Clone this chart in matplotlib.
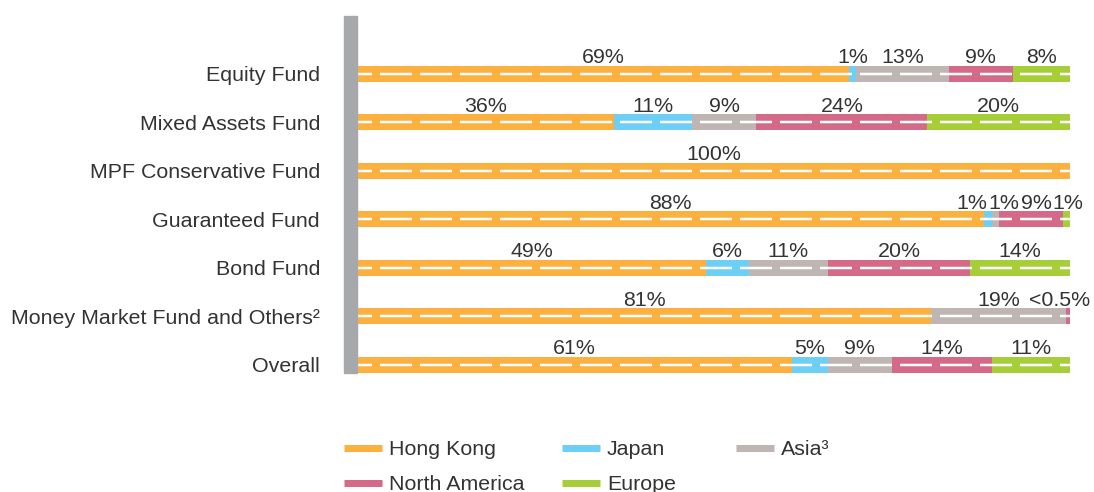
import matplotlib
matplotlib.use("Agg")
import matplotlib.pyplot as plt
from matplotlib.lines import Line2D
from matplotlib.patches import Rectangle
import numpy as np

plt.rcParams['font.family'] = ['Liberation Sans', 'DejaVu Sans']
plt.rcParams['lines.scale_dashes'] = False

categories = ["Equity Fund", "Mixed Assets Fund", "MPF Conservative Fund",
              "Guaranteed Fund", "Bond Fund",
              "Money Market Fund and Others\u00b2", "Overall"]
regions = ["Hong Kong", "Japan", "Asia\u00b3", "North America", "Europe"]

hong_kong     = [69, 36, 100, 88, 49, 80.5, 61]
japan         = [1, 11, 0, 1, 6, 0, 5]
asia          = [13, 9, 0, 1, 11, 18.9, 9]
north_america = [9, 24, 0, 9, 20, 0.6, 14]
europe        = [8, 20, 0, 1, 14, 0, 11]

labels_hk = ["69%", "36%", "100%", "88%", "49%", "81%", "61%"]
labels_jp = ["1%", "11%", "", "1%", "6%", "", "5%"]
labels_as = ["13%", "9%", "", "1%", "11%", "19%", "9%"]
labels_na = ["9%", "24%", "", "9%", "20%", "<0.5%", "14%"]
labels_eu = ["8%", "20%", "", "1%", "14%", "", "11%"]

colors = ["#FBB040", "#6DCFF6", "#BFB5B3", "#D46A87", "#A6CE39"]
text_color = "#333333"
FS = 15.4

W, H, DPI = 1094, 492, 100
fig = plt.figure(figsize=(W / DPI, H / DPI), dpi=DPI)
ax = fig.add_axes([357 / W, 1 - 373 / H, (1070 - 357) / W, (373 - 16) / H])

series = [hong_kong, japan, asia, north_america, europe]
label_sets = [labels_hk, labels_jp, labels_as, labels_na, labels_eu]
y = np.arange(len(categories))
bar_h = 0.33

left = np.zeros(len(categories))
centers = []
for vals, col in zip(series, colors):
    vals = np.array(vals, dtype=float)
    ax.barh(y, vals, left=left, height=bar_h, color=col, linewidth=0, zorder=2)
    centers.append(left + vals / 2)
    left = left + vals

# white dashed centre line through every bar
px = 72 / DPI
for yi, tot in zip(y, left):
    ax.plot([0, tot], [yi, yi], color="white", lw=2.5 * px, zorder=3,
            linestyle=(17 * px, (32 * px, 8 * px)), solid_capstyle='butt',
            dash_capstyle='butt')

ax.set_xlim(0, 100)
ax.set_ylim(6 + bar_h / 2, -1.19)
ax.set_yticks(y)
ax.set_yticklabels(categories, fontsize=FS, color=text_color)
ax.tick_params(axis='y', length=0, pad=37 * px)
ax.set_xticks([])
for s in ax.spines.values():
    s.set_visible(False)

# grey vertical bar
fig.patches.append(Rectangle((344 / W, 1 - 373 / H), 13 / W, 357 / H,
                             transform=fig.transFigure, color="#A7A8AC",
                             zorder=1))

# value labels
texts = []
for r in range(len(categories)):
    row = []
    for s in range(len(series)):
        lab = label_sets[s][r]
        if lab:
            t = ax.annotate(lab, (centers[s][r], y[r] - bar_h / 2),
                            xytext=(0, 2.5 * px), textcoords='offset points',
                            ha='center', va='baseline', fontsize=FS,
                            color=text_color, zorder=4)
            row.append([t, centers[s][r]])
    texts.append(row)

fig.canvas.draw()
renderer = fig.canvas.get_renderer()
px_per_unit = (1070 - 357) / 100.0
right_limit = (1090 - 357) / px_per_unit
for row in texts:
    widths = [t.get_window_extent(renderer).width / px_per_unit for t, _ in row]
    xs = [c for _, c in row]
    gap = 1.0 / px_per_unit
    for _ in range(300):
        moved = False
        for i in range(len(xs) - 1):
            ov = (xs[i] + widths[i] / 2 + gap) - (xs[i + 1] - widths[i + 1] / 2)
            if ov > 1e-6:
                xs[i] -= ov / 2
                xs[i + 1] += ov / 2
                moved = True
        over = xs[-1] + widths[-1] / 2 - right_limit
        if over > 1e-6:
            xs[-1] -= over
            moved = True
        if not moved:
            break
    for (t, _), xn in zip(row, xs):
        t.xy = (xn, t.xy[1])

# legend (three columns)
def handle(c):
    return Line2D([], [], color=c, lw=7 * px, solid_capstyle='butt')

cols = [([0, 3], 344), ([1, 4], 562), ([2], 736)]
for idx, xpix in cols:
    leg = fig.legend([handle(colors[i]) for i in idx], [regions[i] for i in idx],
                     loc='upper left', bbox_to_anchor=(xpix / W, 1 - 440 / H),
                     frameon=False, fontsize=FS, handlelength=1.78,
                     handletextpad=0.32, labelspacing=0.75, borderpad=0,
                     borderaxespad=0)
    for t in leg.get_texts():
        t.set_color(text_color)

fig.savefig("out.png", dpi=DPI)
